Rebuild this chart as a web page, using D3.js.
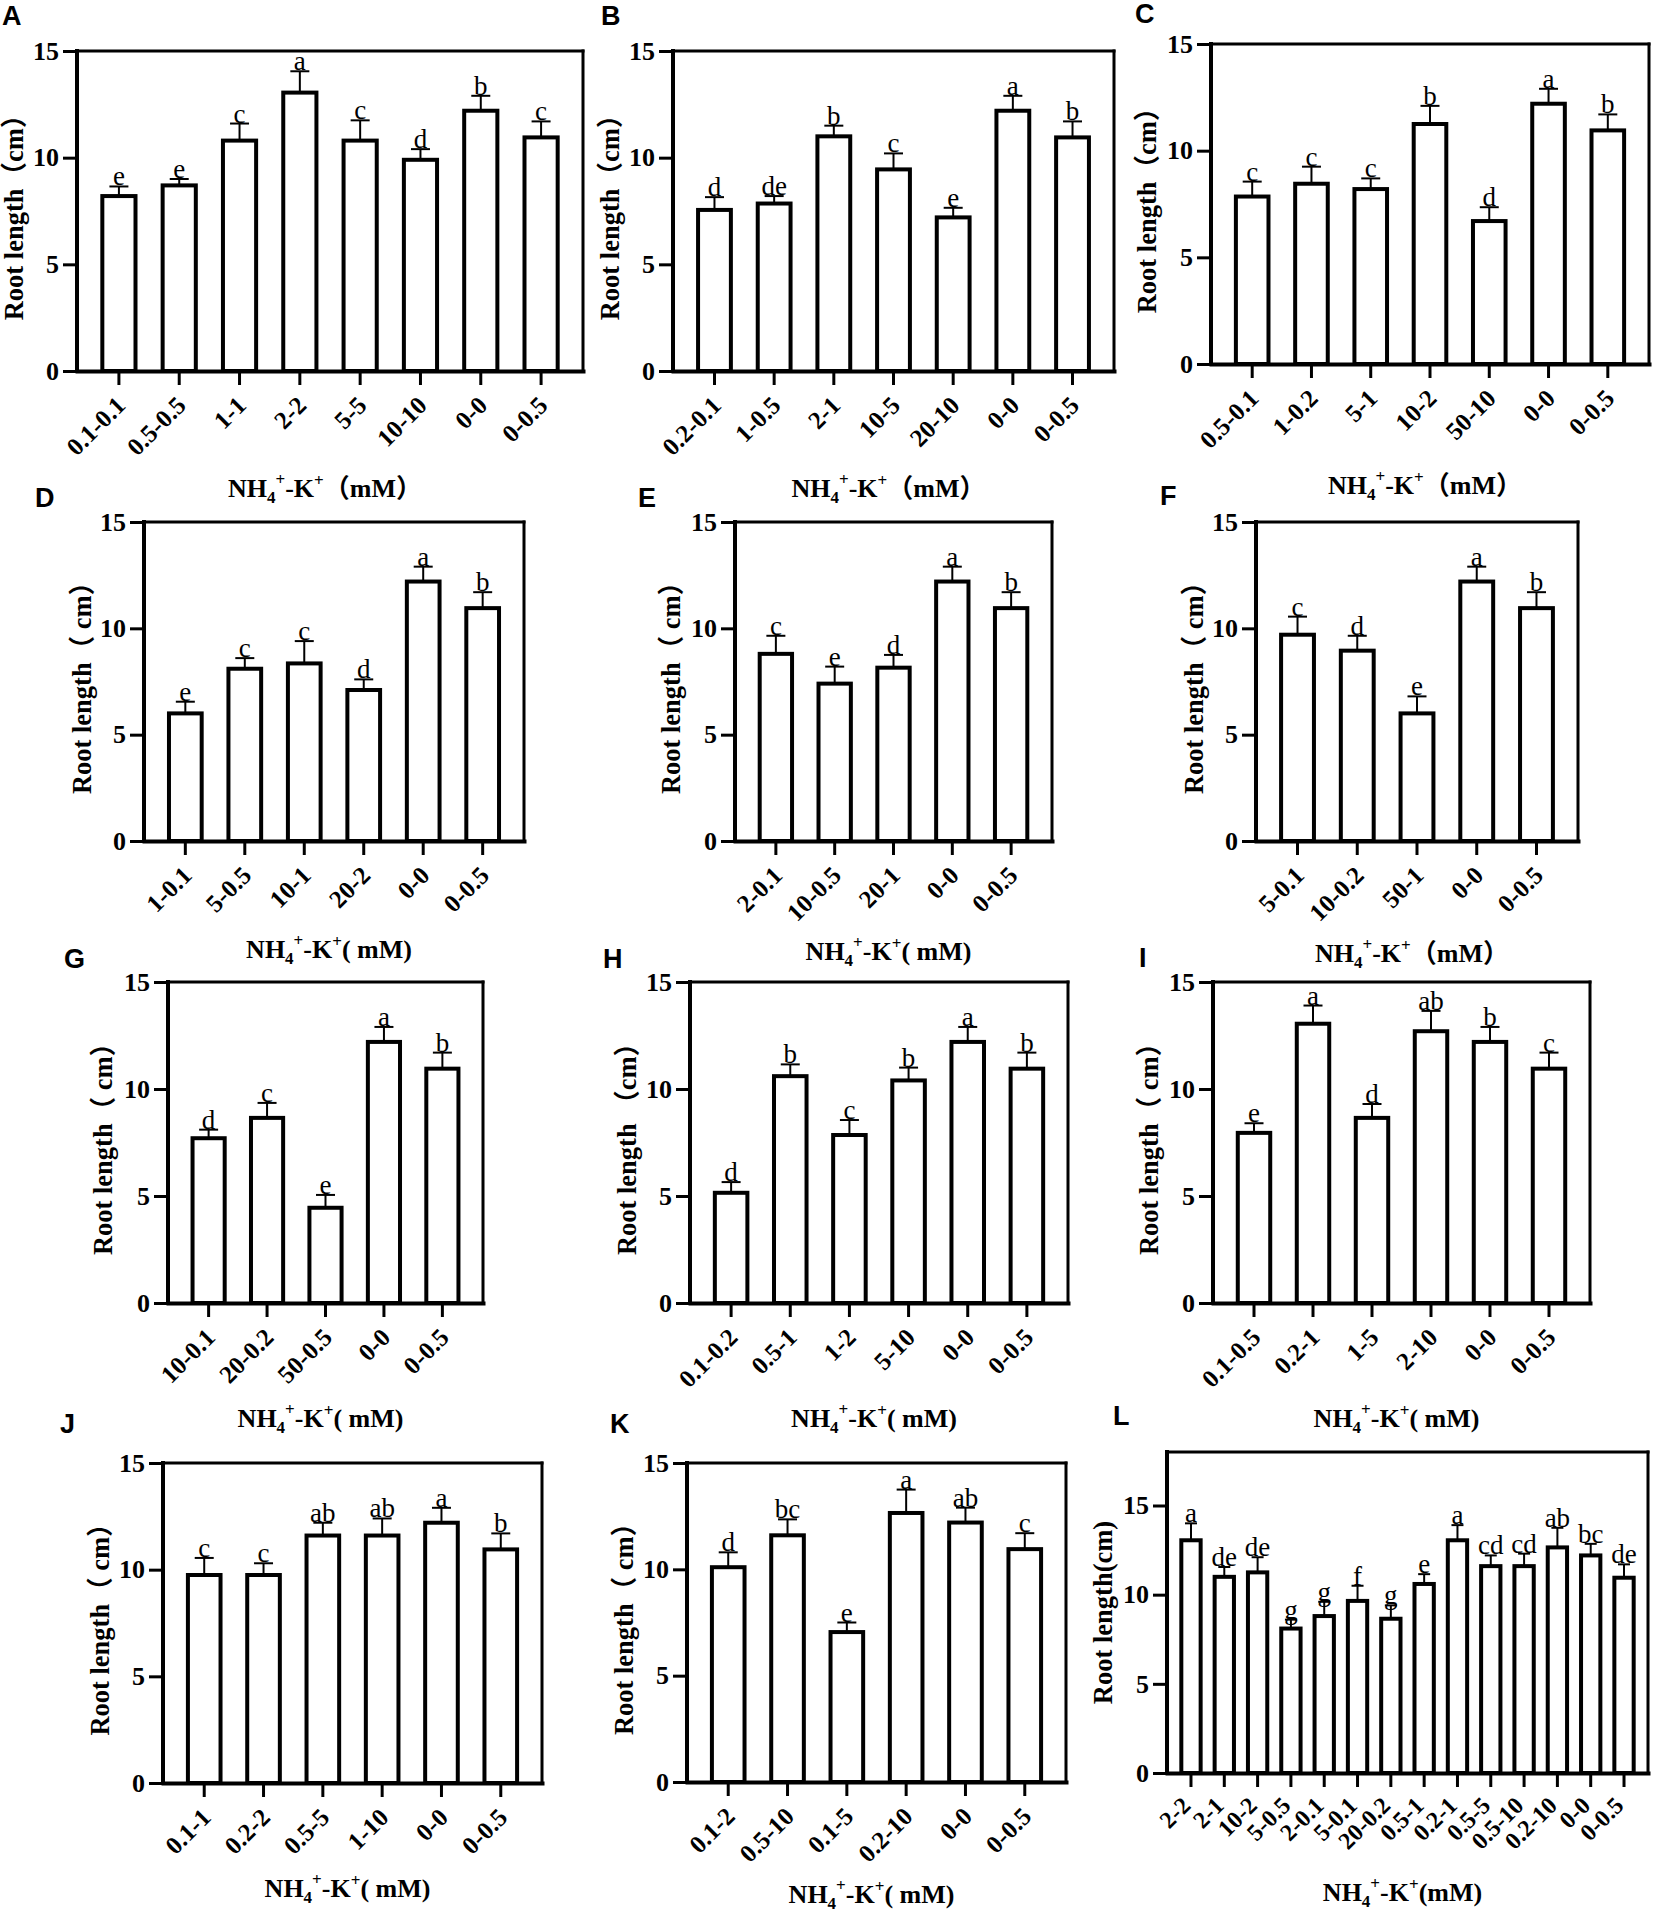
<!DOCTYPE html>
<html>
<head>
<meta charset="utf-8">
<script src="https://cdn.jsdelivr.net/npm/d3@7"></script>
<style>
  html, body { margin: 0; padding: 0; background: #fff; }
  svg { display: block; }
</style>
</head>
<body>
<svg id="fig" width="1654" height="1912"></svg>
<script>
// ---------------- DATA ----------------
const yTicks = [0, 5, 10, 15];

const catsA = ["0.1-0.1","0.5-0.5","1-1","2-2","5-5","10-10","0-0","0-0.5"];
const valsA = [8.2, 8.7, 10.8, 13.05, 10.8, 9.9, 12.2, 10.95];
const errsA = [0.45, 0.3, 0.8, 1.0, 0.95, 0.5, 0.7, 0.75];
const sigA  = ["e","e","c","a","c","d","b","c"];

const catsB = ["0.2-0.1","1-0.5","2-1","10-5","20-10","0-0","0-0.5"];
const valsB = [7.55, 7.85, 11.0, 9.45, 7.2, 12.2, 10.95];
const errsB = [0.6, 0.35, 0.5, 0.75, 0.45, 0.7, 0.75];
const sigB  = ["d","de","b","c","e","a","b"];

const catsC = ["0.5-0.1","1-0.2","5-1","10-2","50-10","0-0","0-0.5"];
const valsC = [7.85, 8.45, 8.2, 11.25, 6.7, 12.2, 10.95];
const errsC = [0.7, 0.8, 0.5, 0.85, 0.65, 0.7, 0.75];
const sigC  = ["c","c","c","b","d","a","b"];

const catsD = ["1-0.1","5-0.5","10-1","20-2","0-0","0-0.5"];
const valsD = [6.0, 8.1, 8.35, 7.1, 12.2, 10.95];
const errsD = [0.55, 0.5, 1.05, 0.5, 0.7, 0.75];
const sigD  = ["e","c","c","d","a","b"];

const catsE = ["2-0.1","10-0.5","20-1","0-0","0-0.5"];
const valsE = [8.8, 7.4, 8.15, 12.2, 10.95];
const errsE = [0.85, 0.8, 0.6, 0.7, 0.75];
const sigE  = ["c","e","d","a","b"];

const catsF = ["5-0.1","10-0.2","50-1","0-0","0-0.5"];
const valsF = [9.7, 8.95, 6.0, 12.2, 10.95];
const errsF = [0.85, 0.7, 0.8, 0.7, 0.75];
const sigF  = ["c","d","e","a","b"];

const catsG = ["10-0.1","20-0.2","50-0.5","0-0","0-0.5"];
const valsG = [7.7, 8.65, 4.45, 12.2, 10.95];
const errsG = [0.4, 0.7, 0.6, 0.7, 0.75];
const sigG  = ["d","c","e","a","b"];

const catsH = ["0.1-0.2","0.5-1","1-2","5-10","0-0","0-0.5"];
const valsH = [5.15, 10.6, 7.85, 10.4, 12.2, 10.95];
const errsH = [0.5, 0.55, 0.7, 0.6, 0.7, 0.75];
const sigH  = ["d","b","c","b","a","b"];

const catsI = ["0.1-0.5","0.2-1","1-5","2-10","0-0","0-0.5"];
const valsI = [7.95, 13.05, 8.65, 12.7, 12.2, 10.95];
const errsI = [0.45, 0.85, 0.65, 0.95, 0.7, 0.75];
const sigI  = ["e","a","d","ab","b","c"];

const catsJ = ["0.1-1","0.2-2","0.5-5","1-10","0-0","0-0.5"];
const valsJ = [9.75, 9.75, 11.6, 11.6, 12.2, 10.95];
const errsJ = [0.8, 0.55, 0.6, 0.8, 0.7, 0.75];
const sigJ  = ["c","c","ab","ab","a","b"];

const catsK = ["0.1-2","0.5-10","0.1-5","0.2-10","0-0","0-0.5"];
const valsK = [10.1, 11.6, 7.05, 12.65, 12.2, 10.95];
const errsK = [0.7, 0.75, 0.45, 1.1, 0.7, 0.75];
const sigK  = ["d","bc","e","a","ab","c"];

const catsL = ["2-2","2-1","10-2","5-0.5","2-0.1","5-0.1","20-0.2","0.5-1","0.2-1","0.5-5","0.5-10","0.2-10","0-0","0-0.5"];
const valsL = [13.05, 11.0, 11.25, 8.1, 8.8, 9.65, 8.65, 10.6, 13.05, 11.6, 11.6, 12.65, 12.2, 10.95];
const errsL = [0.95, 0.55, 0.85, 0.5, 0.8, 0.85, 0.75, 0.55, 0.85, 0.6, 0.7, 1.1, 0.65, 0.75];
const sigL  = ["a","de","de","g","g","f","g","e","a","cd","cd","ab","bc","de"];

// ---------------- LAYOUT (positions / text) ----------------
const layout = [
  {id:"A", cats:catsA, vals:valsA, errs:errsA, sig:sigA, x0:77,  x1:583,  yt:51,   yb:371,  ymax:15, ylx:14,   lab:[2,25],     tty:497,  ylab:"Root length（cm）", unit:"（mM）"},
  {id:"B", cats:catsB, vals:valsB, errs:errsB, sig:sigB, x0:673, x1:1114, yt:51,   yb:371,  ymax:15, ylx:610,  lab:[601,25],   tty:497,  ylab:"Root length（cm）", unit:"（mM）"},
  {id:"C", cats:catsC, vals:valsC, errs:errsC, sig:sigC, x0:1211,x1:1649, yt:44,   yb:364,  ymax:15, ylx:1147, lab:[1135,23],  tty:494,  ylab:"Root length（cm）", unit:"（mM）"},
  {id:"D", cats:catsD, vals:valsD, errs:errsD, sig:sigD, x0:144, x1:524,  yt:522,  yb:841,  ymax:15, ylx:82,   lab:[35,507],   tty:958,  ylab:"Root length（ cm）", unit:"( mM)"},
  {id:"E", cats:catsE, vals:valsE, errs:errsE, sig:sigE, x0:735, x1:1052, yt:522,  yb:841,  ymax:15, ylx:671,  lab:[638,507],  tty:960,  ylab:"Root length（ cm）", unit:"( mM)"},
  {id:"F", cats:catsF, vals:valsF, errs:errsF, sig:sigF, x0:1256,x1:1578, yt:522,  yb:841,  ymax:15, ylx:1194, lab:[1160,505], tty:962,  ylab:"Root length（ cm）", unit:"（mM）"},
  {id:"G", cats:catsG, vals:valsG, errs:errsG, sig:sigG, x0:168, x1:483,  yt:982,  yb:1303, ymax:15, ylx:103,  lab:[64,968],   tty:1427, ylab:"Root length（ cm）", unit:"( mM)"},
  {id:"H", cats:catsH, vals:valsH, errs:errsH, sig:sigH, x0:690, x1:1068, yt:982,  yb:1303, ymax:15, ylx:627,  lab:[603,968],  tty:1427, ylab:"Root length （cm）", unit:"( mM)"},
  {id:"I", cats:catsI, vals:valsI, errs:errsI, sig:sigI, x0:1213,x1:1590, yt:982,  yb:1303, ymax:15, ylx:1149, lab:[1139,967], tty:1427, ylab:"Root length（ cm）", unit:"( mM)"},
  {id:"J", cats:catsJ, vals:valsJ, errs:errsJ, sig:sigJ, x0:163, x1:542,  yt:1463, yb:1783, ymax:15, ylx:100,  lab:[60,1433],  tty:1897, ylab:"Root length（ cm）", unit:"( mM)"},
  {id:"K", cats:catsK, vals:valsK, errs:errsK, sig:sigK, x0:687, x1:1066, yt:1463, yb:1782, ymax:15, ylx:624,  lab:[610,1433], tty:1903, ylab:"Root length（ cm）", unit:"( mM)"},
  {id:"L", cats:catsL, vals:valsL, errs:errsL, sig:sigL, x0:1167,x1:1648, yt:1452, yb:1773, ymax:18, ylx:1103, lab:[1113,1425],tty:1901, ylab:"Root length(cm)",  unit:"(mM)", dense:true}
];

const SERIF = "'Liberation Serif','Times New Roman','Noto Sans CJK SC',serif";
const SANS = "'Liberation Sans',Arial,sans-serif";

const svg = d3.select("#fig");
svg.append("rect").attr("width",1654).attr("height",1912).attr("fill","#fff");

function drawPanel(p) {
  const g = svg.append("g").attr("class","panel-"+p.id);
  const dense = !!p.dense;
  const x = d3.scaleBand().domain(p.cats).range([p.x0, p.x1])
    .paddingInner(dense ? 0.42 : 0.45).paddingOuter(dense ? 0.43 : 0.42);
  const y = d3.scaleLinear().domain([0, p.ymax]).range([p.yb, p.yt]);
  const rows = p.cats.map((c,i) => ({c, v:p.vals[i], e:p.errs[i], s:p.sig[i]}));
  const capW = dense ? 12 : 19;

  // error bars
  g.selectAll("line.err").data(rows).join("line")
    .attr("x1", d => x(d.c) + x.bandwidth()/2).attr("x2", d => x(d.c) + x.bandwidth()/2)
    .attr("y1", d => y(d.v)).attr("y2", d => y(d.v + d.e))
    .attr("stroke","#000").attr("stroke-width",2);
  g.selectAll("line.cap").data(rows).join("line")
    .attr("x1", d => x(d.c) + x.bandwidth()/2 - capW/2).attr("x2", d => x(d.c) + x.bandwidth()/2 + capW/2)
    .attr("y1", d => y(d.v + d.e)).attr("y2", d => y(d.v + d.e))
    .attr("stroke","#000").attr("stroke-width",2);

  // bars
  g.selectAll("rect.bar").data(rows).join("rect")
    .attr("x", d => x(d.c)).attr("width", x.bandwidth())
    .attr("y", d => y(d.v)).attr("height", d => y(0) - y(d.v))
    .attr("fill","#fff").attr("stroke","#000").attr("stroke-width",4);

  // significance letters
  g.selectAll("text.sig").data(rows).join("text")
    .attr("x", d => x(d.c) + x.bandwidth()/2).attr("y", d => y(d.v + d.e) - 1)
    .attr("text-anchor","middle").attr("font-family",SERIF).attr("font-size", 27)
    .text(d => d.s);

  // frame top & right
  g.append("line").attr("x1",p.x0).attr("x2",p.x1).attr("y1",p.yt).attr("y2",p.yt)
    .attr("stroke","#000").attr("stroke-width",3).attr("stroke-linecap","square");
  g.append("line").attr("x1",p.x1).attr("x2",p.x1).attr("y1",p.yt).attr("y2",p.yb)
    .attr("stroke","#000").attr("stroke-width",3).attr("stroke-linecap","square");

  // y axis
  const ya = g.append("g").attr("transform",`translate(${p.x0},0)`)
    .call(d3.axisLeft(y).tickValues(yTicks).tickSize(14).tickSizeOuter(0).tickPadding(4));
  ya.select(".domain").attr("stroke-width",4).attr("stroke-linecap","square")
    .attr("d", `M0,${p.yb}V${p.yt}`);
  ya.selectAll(".tick line").attr("stroke-width",3);
  ya.selectAll(".tick text").attr("font-family",SERIF).attr("font-weight","bold")
    .attr("font-size",26).attr("fill","#000");

  // x axis
  const xa = g.append("g").attr("transform",`translate(0,${p.yb})`)
    .call(d3.axisBottom(x).tickSize(14).tickSizeOuter(0));
  xa.select(".domain").attr("stroke-width",4).attr("stroke-linecap","square");
  xa.selectAll(".tick line").attr("stroke-width",3);
  xa.selectAll(".tick text")
    .attr("font-family",SERIF).attr("font-weight","bold").attr("font-size", dense ? 24 : 25)
    .attr("fill","#000").attr("x",0).attr("y",0).attr("dy",0)
    .attr("text-anchor","end")
    .attr("transform", dense ? "translate(1,34) rotate(-45)" : "translate(8,36) rotate(-45)");

  // y label
  const cy = (p.yt + p.yb)/2;
  g.append("text").attr("transform",`translate(${p.ylx},${cy}) rotate(-90)`)
    .attr("text-anchor","middle").attr("dominant-baseline","central")
    .attr("font-family",SERIF).attr("font-weight","bold").attr("font-size", 26.5)
    .text(p.ylab);

  // x title
  const t = g.append("text").attr("x",(p.x0+p.x1)/2 - 5).attr("y",p.tty)
    .attr("text-anchor","middle").attr("font-family",SERIF).attr("font-weight","bold").attr("font-size",26);
  t.append("tspan").text("NH");
  t.append("tspan").text("4").attr("font-size",17).attr("dy",6);
  t.append("tspan").text("+").attr("font-size",17).attr("dy",-18);
  t.append("tspan").text("-K").attr("dy",12);
  t.append("tspan").text("+").attr("font-size",17).attr("dy",-11);
  t.append("tspan").text(p.unit).attr("dy",11);

  // panel letter
  g.append("text").attr("x",p.lab[0]).attr("y",p.lab[1])
    .attr("font-family",SANS).attr("font-weight","bold").attr("font-size",27)
    .text(p.id);
}

layout.forEach(drawPanel);
</script>
</body>
</html>
